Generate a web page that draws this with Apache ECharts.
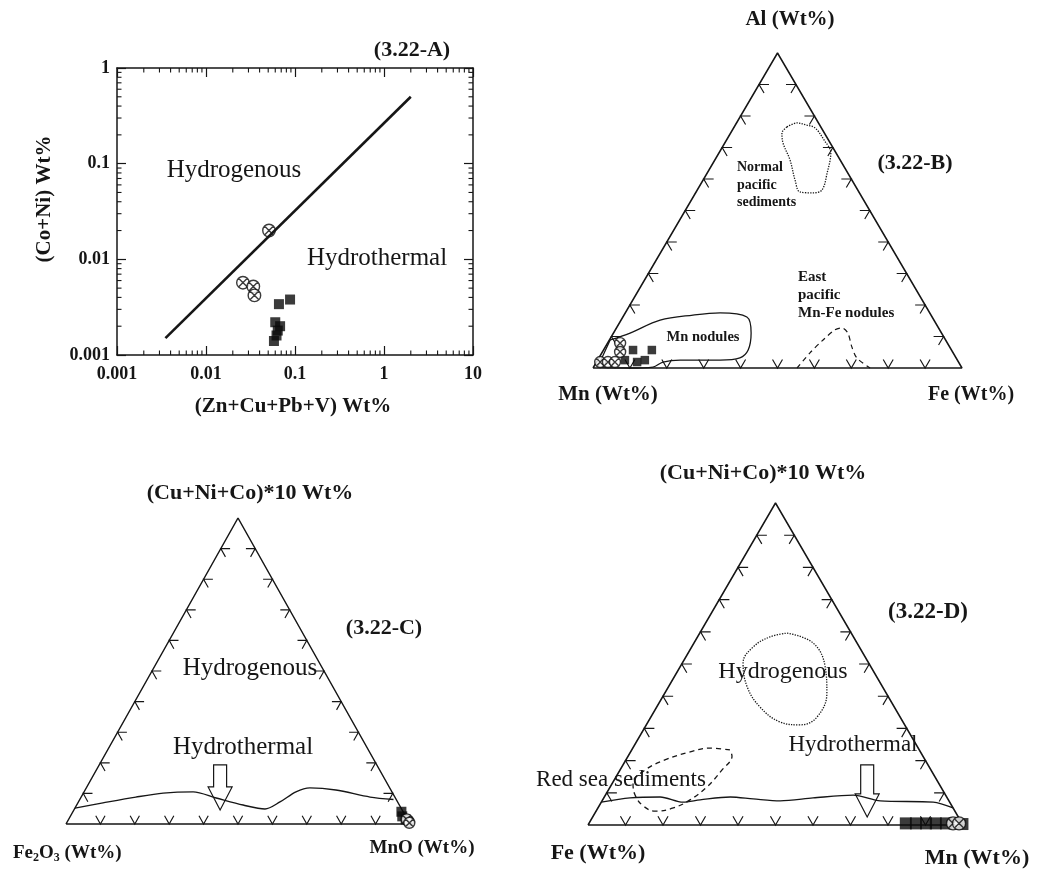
<!DOCTYPE html>
<html>
<head>
<meta charset="utf-8">
<title>Discrimination diagrams (3.22 A–D)</title>
<script src="https://cdn.jsdelivr.net/npm/echarts@6.0.0/dist/echarts.min.js"></script>
<style>
  html, body { margin: 0; padding: 0; background: #ffffff; }
  #chart { width: 1040px; height: 877px; }
</style>
</head>
<body>
<div id="chart"></div>
<script>
// ---------- Panel A: (Zn+Cu+Pb+V) vs (Co+Ni), Wt%, log–log ----------
const aXDecades = [0.001, 0.01, 0.1, 1, 10];
const aYDecades = [0.001, 0.01, 0.1, 1];
const aBoundary = [[0.0035, 0.0015], [2, 0.5]];
const aCircles = [[0.051, 0.020], [0.026, 0.0057], [0.034, 0.0052], [0.035, 0.0042]];
const aSquares = [[0.066, 0.0034], [0.088, 0.0038], [0.060, 0.0022], [0.068, 0.0020],
                  [0.064, 0.0018], [0.062, 0.0016], [0.058, 0.0014]];

// ---------- Panel B: Mn – Fe – Al ternary, rows are [Mn, Fe, Al] ----------
const bCircles = [[88.7, 3.4, 7.9], [90.1, 4.8, 5.1], [97.1, 1.0, 1.9], [95.0, 3.1, 1.9], [93.1, 5.0, 1.9]];
const bSquares = [[86.3, 8.0, 5.7], [81.2, 13.1, 5.7], [90.1, 7.4, 2.5], [87.1, 11.0, 1.9], [84.7, 12.8, 2.5]];
const bMnNodules = [[90.9, 0.2, 8.9], [84.4, 4.5, 11.1], [74.2, 10.6, 15.2], [64.5, 18.7, 16.8],
                    [56.8, 25.7, 17.5], [50.2, 33.6, 16.2], [51.6, 37.3, 11.1], [55.1, 39.2, 5.7],
                    [58.6, 38.2, 3.2], [64.3, 33.2, 2.5], [75.1, 22.4, 2.5], [80.1, 18.0, 1.9],
                    [83.6, 16.1, 0.3], [90.0, 10.0, 0.0], [98.5, 1.2, 0.3], [90.9, 0.2, 8.9]];
const bNormalPacific = [[9.2, 14.3, 76.5], [5.8, 16.4, 77.8], [3.5, 19.4, 77.1], [1.7, 22.1, 76.2],
                        [1.2, 26.4, 72.4], [1.4, 30.3, 68.3], [5.6, 32.5, 61.9], [9.7, 33.8, 56.5],
                        [12.6, 31.8, 55.6], [16.0, 28.1, 55.9], [15.4, 24.9, 59.7], [13.6, 20.4, 66.0],
                        [12.8, 15.8, 71.4], [11.5, 13.9, 74.6], [9.2, 14.3, 76.5]];
const bEastPacific = [[44.7, 55.3, 0.0], [38.8, 56.4, 4.8], [33.2, 57.9, 8.9], [28.4, 59.5, 12.1],
                      [26.2, 61.1, 12.7], [25.4, 63.5, 11.1], [26.5, 66.8, 6.7], [26.9, 69.9, 3.2],
                      [24.9, 75.1, 0.0]];

// ---------- Panel C: Fe2O3 – MnO – (Cu+Ni+Co)*10 ternary, rows are [Fe2O3, MnO, (Cu+Ni+Co)*10] ----------
const cBoundary = [[94.8, 0.0, 5.2], [85.8, 7.3, 6.9], [75.3, 15.9, 8.8], [66.7, 23.2, 10.1],
                   [57.8, 31.7, 10.5], [52.1, 39.4, 8.5], [45.4, 48.4, 6.2], [39.7, 55.4, 4.9],
                   [34.2, 58.6, 7.2], [27.9, 61.6, 10.5], [23.2, 65.0, 11.8], [16.0, 72.9, 11.1],
                   [7.2, 84.0, 8.8], [0.8, 91.2, 8.0]];
const cArrowTip = [52.9, 42.5, 4.6];
const cSquares = [[0.5, 95.5, 4.0], [1.0, 96.5, 2.5], [0.5, 98.0, 1.5]];
const cCircles = [[0.0, 99.0, 1.0], [0.2, 98.3, 1.5], [0.0, 99.6, 0.4]];

// ---------- Panel D: Fe – Mn – (Cu+Ni+Co)*10 ternary, rows are [Fe, Mn, (Cu+Ni+Co)*10] ----------
const dHydrogenous = [[17.1, 23.3, 59.6], [11.7, 31.8, 56.5], [12.2, 38.7, 49.1], [15.8, 43.2, 41.0],
                      [22.2, 44.3, 33.5], [27.9, 41.0, 31.1], [32.8, 35.2, 32.0], [35.8, 27.6, 36.6],
                      [36.1, 21.0, 42.9], [33.5, 16.2, 50.3], [28.3, 16.4, 55.3], [22.3, 19.3, 58.4],
                      [17.1, 23.3, 59.6]];
const dRedSea = [[50.5, 26.2, 23.3], [55.5, 20.6, 23.9], [61.4, 15.9, 22.7], [69.4, 10.4, 20.2],
                 [76.2, 6.7, 17.1], [81.5, 5.5, 13.0], [82.8, 7.9, 9.3], [82.3, 11.8, 5.9],
                 [79.9, 15.8, 4.3], [74.6, 20.1, 5.3], [68.9, 23.3, 7.8], [62.4, 25.8, 11.8],
                 [55.7, 27.2, 17.1], [50.9, 27.7, 21.4], [50.5, 26.2, 23.3]];
const dBoundary = [[92.9, 0.0, 7.1], [84.6, 7.0, 8.4], [76.4, 14.9, 8.7], [71.1, 21.8, 7.1],
                   [66.2, 26.0, 7.8], [57.7, 33.6, 8.7], [51.9, 40.0, 8.1], [45.0, 47.5, 7.5],
                   [35.8, 55.8, 8.4], [24.6, 66.1, 9.3], [18.3, 74.2, 7.5], [4.4, 88.5, 7.1],
                   [0.0, 94.7, 5.3]];
const dArrowTip = [24.3, 73.2, 2.5];
const dSquares = [[15.0, 84.5, 0.5], [12.3, 87.2, 0.5], [9.6, 89.9, 0.5], [7.0, 92.5, 0.5],
                  [4.3, 95.2, 0.5], [2.0, 97.5, 0.5], [0.0, 99.7, 0.3]];
const dCircles = [[2.4, 97.1, 0.5], [0.8, 98.7, 0.5]];

// Ternary tick positions (percent along each edge)
const ternTicks = [10, 20, 30, 40, 50, 60, 70, 80, 90];

// ---------- drawing helpers ----------
const SERIF = '"Liberation Serif", "Times New Roman", serif';
const INK = '#161616';
const H = Math.sqrt(3) / 2;

// [bottom-left, bottom-right, top] composition -> cartesian in a triangle of side 100
const toXY = p => {
  const s = p[0] + p[1] + p[2];
  return [(p[1] + p[2] / 2) * 100 / s, p[2] * H * 100 / s];
};

const CROSS_CIRCLE = 'path://M10,0A10,10,0,1,1,-10,0A10,10,0,1,1,10,0ZM7.07,7.07L-7.07,-7.07M7.07,-7.07L-7.07,7.07';

const ternGrids = [
  { left: 593, top: 53, width: 369, height: 315 },   // B
  { left: 66, top: 518, width: 344, height: 306 },   // C
  { left: 588, top: 503, width: 375, height: 322 }   // D
];

const aMinorX = aXDecades.slice(0, -1).flatMap(d => [2, 3, 4, 5, 6, 7, 8, 9].map(m => m * d));
const aMinorY = aYDecades.slice(0, -1).flatMap(d => [2, 3, 4, 5, 6, 7, 8, 9].map(m => m * d));
const aXMin = aXDecades[0], aXMax = aXDecades[aXDecades.length - 1];
const aYMin = aYDecades[0], aYMax = aYDecades[aYDecades.length - 1];

const logLabel = v => String(Number(Number(v).toPrecision(3)));

const frameAxis = {
  axisLine: { show: true, onZero: false, lineStyle: { color: INK, width: 1.5 } },
  axisTick: { show: true, inside: true, length: 9, lineStyle: { color: INK, width: 1.2 } },
  splitLine: { show: false }
};

const xAxes = [
  Object.assign({ type: 'log', logBase: 10, gridIndex: 0, position: 'bottom', min: aXMin, max: aXMax,
    axisLabel: { show: true, margin: 10, color: INK, fontFamily: SERIF, fontWeight: 'bold', fontSize: 18,
      formatter: logLabel } }, frameAxis),
  Object.assign({ type: 'log', logBase: 10, gridIndex: 0, position: 'top', min: aXMin, max: aXMax,
    axisLabel: { show: false } }, frameAxis)
];
const yAxes = [
  Object.assign({ type: 'log', logBase: 10, gridIndex: 0, position: 'left', min: aYMin, max: aYMax,
    axisLabel: { show: true, margin: 7, color: INK, fontFamily: SERIF, fontWeight: 'bold', fontSize: 18,
      formatter: logLabel } }, frameAxis),
  Object.assign({ type: 'log', logBase: 10, gridIndex: 0, position: 'right', min: aYMin, max: aYMax,
    axisLabel: { show: false } }, frameAxis)
];
ternGrids.forEach((g, k) => {
  xAxes.push({ type: 'value', gridIndex: k + 1, min: 0, max: 100, show: false });
  yAxes.push({ type: 'value', gridIndex: k + 1, min: 0, max: 100 * H, show: false });
});

// minor log ticks on all four sides of panel A
function minorTickSeries(values, isX) {
  return {
    type: 'custom', xAxisIndex: 0, yAxisIndex: 0, silent: true, clip: false,
    data: values.map(v => isX ? [v, 0.01] : [0.01, v]),
    renderItem(params, api) {
      const v = api.value(isX ? 0 : 1);
      const len = 4.5;
      let a, b, s1, s2;
      if (isX) {
        a = api.coord([v, aYMin]); b = api.coord([v, aYMax]);
        s1 = [a[0], a[1], a[0], a[1] - len]; s2 = [b[0], b[1], b[0], b[1] + len];
      } else {
        a = api.coord([aXMin, v]); b = api.coord([aXMax, v]);
        s1 = [a[0], a[1], a[0] + len, a[1]]; s2 = [b[0], b[1], b[0] - len, b[1]];
      }
      const st = { stroke: INK, lineWidth: 1.1 };
      return { type: 'group', children: [
        { type: 'line', shape: { x1: s1[0], y1: s1[1], x2: s1[2], y2: s1[3] }, style: st },
        { type: 'line', shape: { x1: s2[0], y1: s2[1], x2: s2[2], y2: s2[3] }, style: st }
      ] };
    }
  };
}

// ternary frame: outline and chevron ticks along every edge
function ternFrame(k) {
  const ax = { xAxisIndex: 2 + k, yAxisIndex: 2 + k };
  const corners = [[100, 0, 0], [0, 100, 0], [0, 0, 100], [100, 0, 0]];
  const tickData = [];
  [0, 1, 2].forEach(edge => ternTicks.forEach(f => tickData.push([edge, f])));
  return [
    Object.assign({ type: 'line', data: corners.map(toXY), symbol: 'none', silent: true, clip: false,
      lineStyle: { color: INK, width: 1.5 }, z: 3 }, ax),
    Object.assign({ type: 'custom', data: tickData, silent: true, clip: false,
      renderItem(params, api) {
        const edge = api.value(0), f = api.value(1), d = 2.7;
        let pts;
        if (edge === 0) {        // base (top component = 0)
          pts = [[100 - f - d, f, d], [100 - f, f, 0], [100 - f, f - d, d]];
        } else if (edge === 1) { // left edge (bottom-right component = 0)
          pts = [[100 - f - d, d, f], [100 - f, 0, f], [100 - f, d, f - d]];
        } else {                 // right edge (bottom-left component = 0)
          pts = [[d, 100 - f - d, f], [0, 100 - f, f], [d, 100 - f, f - d]];
        }
        return { type: 'polyline', shape: { points: pts.map(p => api.coord(toXY(p))) },
          style: { stroke: INK, fill: null, lineWidth: 1.15 } };
      } }, ax)
  ];
}

function ternLine(k, rows, type, width, smooth) {
  return { type: 'line', xAxisIndex: 2 + k, yAxisIndex: 2 + k, data: rows.map(toXY), symbol: 'none',
    silent: true, clip: false, smooth: smooth, lineStyle: { color: INK, width: width, type: type }, z: 2 };
}

function ternScatter(k, rows, kind, size) {
  const isSq = kind === 'square';
  return { type: 'scatter', xAxisIndex: 2 + k, yAxisIndex: 2 + k, data: rows.map(toXY), clip: false,
    symbol: isSq ? 'rect' : CROSS_CIRCLE, symbolSize: size, silent: true, z: 5,
    itemStyle: isSq ? { color: '#0a0a0a' } : { color: '#ffffff', borderColor: '#0a0a0a', borderWidth: 1.4 } };
}

// hollow down-pointing arrow with its tip at a composition
function ternArrow(k, tip, len) {
  return { type: 'custom', xAxisIndex: 2 + k, yAxisIndex: 2 + k, data: [toXY(tip)], silent: true, clip: false, z: 4,
    renderItem(params, api) {
      const p = api.coord([api.value(0), api.value(1)]);
      const sw = 6.5, hw = 12, hl = 23;
      const x = p[0], y = p[1];
      return { type: 'polygon', shape: { points: [[x, y], [x - hw, y - hl], [x - sw, y - hl], [x - sw, y - len],
        [x + sw, y - len], [x + sw, y - hl], [x + hw, y - hl]] },
        style: { stroke: INK, fill: null, lineWidth: 1.2 } };
    } };
}

const series = [
  { type: 'line', xAxisIndex: 0, yAxisIndex: 0, data: aBoundary, symbol: 'none', silent: true,
    lineStyle: { color: INK, width: 2.6 } },
  { type: 'scatter', xAxisIndex: 0, yAxisIndex: 0, data: aSquares, symbol: 'rect', symbolSize: 10,
    itemStyle: { color: '#0a0a0a' }, silent: true },
  { type: 'scatter', xAxisIndex: 0, yAxisIndex: 0, data: aCircles, symbol: CROSS_CIRCLE, symbolSize: 12.5,
    itemStyle: { color: '#ffffff', borderColor: '#0a0a0a', borderWidth: 1.4 }, silent: true },
  minorTickSeries(aMinorX, true),
  minorTickSeries(aMinorY, false),

  ...ternFrame(0),
  ternLine(0, bMnNodules, 'solid', 1.3, 0.35),
  ternLine(0, bNormalPacific, 'dotted', 1.3, 0.35),
  ternLine(0, bEastPacific, [5, 4], 1.2, 0.3),
  ternScatter(0, bSquares, 'square', 8.5),
  ternScatter(0, bCircles, 'circle', 11),

  ...ternFrame(1),
  ternLine(1, cBoundary, 'solid', 1.4, 0.3),
  ternArrow(1, cArrowTip, 45),
  ternScatter(1, cSquares, 'square', 10),
  ternScatter(1, cCircles, 'circle', 11),

  ...ternFrame(2),
  ternLine(2, dHydrogenous, 'dotted', 1.3, 0.4),
  ternLine(2, dRedSea, [5, 4], 1.3, 0.4),
  ternLine(2, dBoundary, 'solid', 1.3, 0.3),
  ternArrow(2, dArrowTip, 52),
  ternScatter(2, dSquares, 'square', 12),
  ternScatter(2, dCircles, 'circle', 13)
];

// ---------- text ----------
function txt(text, x, y, size, bold, extra) {
  const el = {
    type: 'text', x: x, y: y, silent: true, z: 10,
    style: { text: text, fill: INK, font: (bold ? 'bold ' : '') + size + 'px ' + SERIF,
      textAlign: 'center', align: 'center', textVerticalAlign: 'middle', verticalAlign: 'middle' }
  };
  if (extra && extra.style) Object.assign(el.style, extra.style);
  if (extra && extra.rotation) el.rotation = extra.rotation;
  return el;
}

const graphics = [
  // Panel A
  txt('(3.22-A)', 412, 50, 22, true),
  txt('(Zn+Cu+Pb+V) Wt%', 293, 407, 21, true),
  txt('(Co+Ni) Wt%', 45, 199, 21, true, { rotation: Math.PI / 2 }),
  txt('Hydrogenous', 234, 170, 25, false),
  txt('Hydrothermal', 377, 258, 25, false),
  // Panel B
  txt('Al (Wt%)', 790, 20, 21, true),
  txt('Mn (Wt%)', 608, 395, 21, true),
  txt('Fe (Wt%)', 971, 395, 20, true),
  txt('(3.22-B)', 915, 163, 22, true),
  txt('Normal\npacific\nsediments', 737, 185, 14, true, { style: { textAlign: 'left', align: 'left', lineHeight: 17.5 } }),
  txt('East\npacific\nMn-Fe nodules', 798, 295, 15, true, { style: { textAlign: 'left', align: 'left', lineHeight: 18 } }),
  txt('Mn nodules', 703, 337, 14.5, true),
  // Panel C
  txt('(Cu+Ni+Co)*10 Wt%', 250, 493, 22, true),
  txt('(3.22-C)', 384, 628, 22, true),
  txt('Hydrogenous', 250, 668, 25, false),
  txt('Hydrothermal', 243, 747, 25, false),
  {
    type: 'text', x: 13, y: 853, silent: true, z: 10,
    style: {
      text: '{b|Fe}{s|2}{b|O}{s|3}{b| (Wt%)}', textAlign: 'left', align: 'left',
      textVerticalAlign: 'middle', verticalAlign: 'middle', fill: INK,
      rich: {
        b: { font: 'bold 19px ' + SERIF, fill: INK },
        s: { font: 'bold 12px ' + SERIF, fill: INK, padding: [9, 0, 0, 0] }
      }
    }
  },
  txt('MnO (Wt%)', 422, 848, 19, true),
  // Panel D
  txt('(Cu+Ni+Co)*10 Wt%', 763, 473, 22, true),
  txt('(3.22-D)', 928, 612, 23, true),
  txt('Hydrogenous', 783, 672, 24, false),
  txt('Hydrothermal', 853, 745, 23, false),
  txt('Red sea sediments', 621, 780, 23, false),
  txt('Fe (Wt%)', 598, 853, 22, true),
  txt('Mn (Wt%)', 977, 858, 22, true)
];

const chart = echarts.init(document.getElementById('chart'), null, { renderer: 'canvas' });
chart.setOption({
  backgroundColor: '#ffffff',
  animation: false,
  tooltip: { show: false },
  grid: [{ left: 117, top: 68, width: 356, height: 287 }].concat(ternGrids),
  xAxis: xAxes,
  yAxis: yAxes,
  series: series,
  graphic: { elements: graphics }
});
</script>
</body>
</html>
